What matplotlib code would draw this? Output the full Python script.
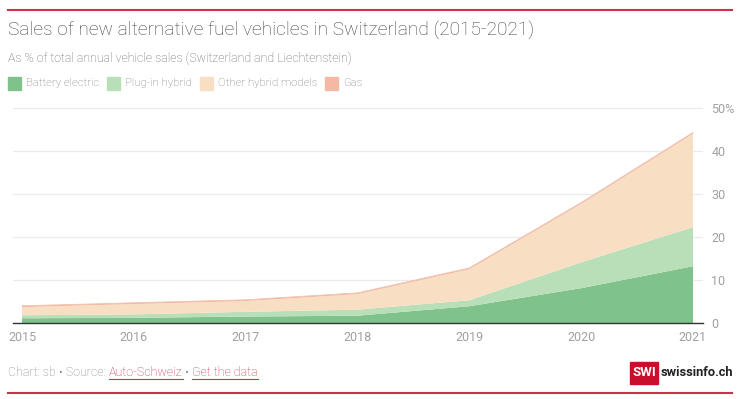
import matplotlib
matplotlib.use('Agg')
import matplotlib.pyplot as plt
from matplotlib.patches import Rectangle
from matplotlib.lines import Line2D

plt.rcParams['font.family'] = ['Roboto', 'DejaVu Sans']

years = [2015, 2016, 2017, 2018, 2019, 2020, 2021]
battery = [1.1, 1.2, 1.5, 1.7, 3.9, 8.1, 13.2]
plugin = [0.7, 0.8, 1.1, 1.4, 1.4, 6.0, 9.1]
other_hybrid = [1.9, 2.4, 2.5, 3.6, 7.2, 13.6, 21.7]
gas = [0.3, 0.3, 0.3, 0.3, 0.3, 0.3, 0.3]

labels = ['Battery electric', 'Plug-in hybrid', 'Other hybrid models', 'Gas']
colors = ['#7fc28b', '#b9dfb8', '#f8dfc3', '#f3b9a4']
yticks = [0, 10, 20, 30, 40, 50]
ytick_labels = ['0', '10', '20', '30', '40', '50%']

W, H = 740, 399
fig = plt.figure(figsize=(W / 100, H / 100), dpi=100)
ax = fig.add_axes([13 / W, 1 - 323 / H, 690 / W, 215 / H])

ax.stackplot(years, battery, plugin, other_hybrid, gas, colors=colors, linewidth=0)
# thin pinkish top edge (gas layer)
top = [b + p + o + g for b, p, o, g in zip(battery, plugin, other_hybrid, gas)]
ax.plot(years, top, color='#f2c2b0', lw=0.6)

ax.set_xlim(2015 - 9 / 111.8, 2021 + 10 / 111.8)
ax.set_ylim(0, 50)
ax.set_yticks(yticks)
ax.set_yticklabels(ytick_labels)
ax.set_xticks(years)
ax.yaxis.tick_right()
ax.grid(axis='y', color='#ebebeb', lw=0.9)
ax.set_axisbelow(True)
for s in ['top', 'left', 'right']:
    ax.spines[s].set_visible(False)
ax.spines['bottom'].set_color('#333333')
ax.spines['bottom'].set_linewidth(1.0)
ax.spines['bottom'].set_zorder(5)
ax.tick_params(axis='y', length=0, pad=6, labelsize=9, labelcolor='#a0a0a0')
ax.tick_params(axis='x', length=0, pad=6, labelsize=9, labelcolor='#a0a0a0')

# header / footer lines
fig.add_artist(Line2D([8 / W, 732 / W], [1 - 10 / H] * 2, color='#c9324a', lw=1.5))
fig.add_artist(Line2D([8 / W, 732 / W], [1 - 393 / H] * 2, color='#c9324a', lw=1.5))

fig.text(8 / W, 1 - 30 / H, 'Sales of new alternative fuel vehicles in Switzerland (2015-2021)',
         fontsize=13.8, color='#444444', fontweight='light', va='center')
fig.text(8 / W, 1 - 58 / H, 'As % of total annual vehicle sales (Switzerland and Liechtenstein)',
         fontsize=8.9, color='#666666', va='center', fontweight='light')

# legend
x = 8
fig.canvas.draw()
r = fig.canvas.get_renderer()
for lab, c in zip(labels, colors):
    fig.add_artist(Rectangle((x / W, 1 - 90 / H), 13 / W, 13 / H, color=c, transform=fig.transFigure))
    t = fig.text((x + 18) / W, 1 - 83.5 / H, lab, fontsize=8.2, color='#777777', va='center', fontweight='light')
    x += 18 + t.get_window_extent(r).width + 8

# footer text
parts = [('Chart: sb \u2022 Source: ', '#888888', False), ('Auto-Schweiz', '#c9324a', True),
         (' \u2022 ', '#888888', False), ('Get the data', '#c9324a', True)]
x = 8
for txt, c, ul in parts:
    t = fig.text(x / W, 1 - 373 / H, txt, fontsize=9.0, color=c, va='center', fontweight='light')
    w = t.get_window_extent(r).width
    if ul:
        fig.add_artist(Line2D([x / W, (x + w) / W], [1 - 379 / H] * 2, color=c, lw=0.8))
    x += w

# logo
fig.add_artist(Rectangle((630 / W, 1 - 384 / H), 28 / W, 22 / H, color='#c8102e', transform=fig.transFigure))
fig.text(644 / W, 1 - 373 / H, 'SWI', fontsize=9.5, color='white', fontweight='bold', ha='center', va='center')
fig.text(661 / W, 1 - 373 / H, 'swissinfo.ch', fontsize=9.3, color='#222222', fontweight='bold', va='center')

fig.savefig('out.png', dpi=100)
